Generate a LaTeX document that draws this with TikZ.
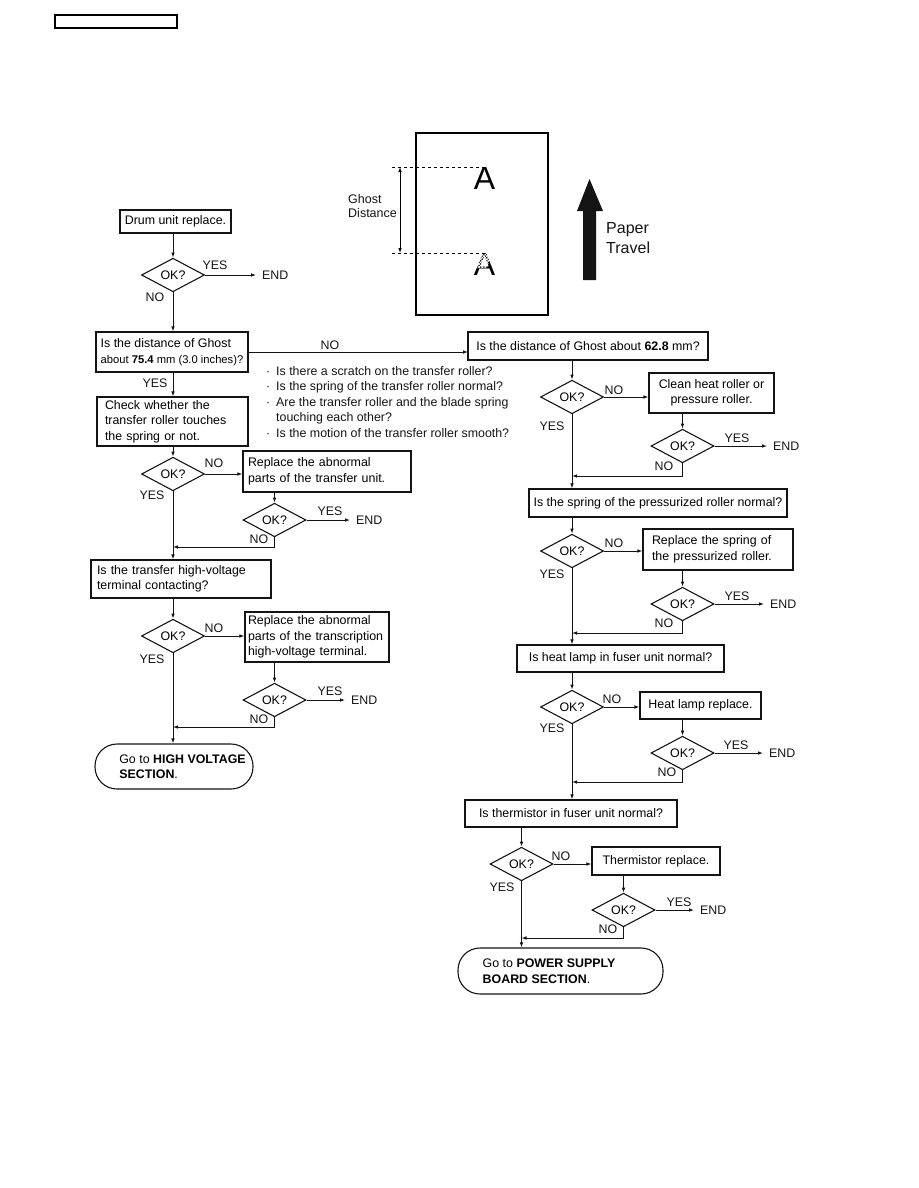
\documentclass[tikz,border=0pt]{standalone}
\usepackage{fontspec}
\setmainfont{Liberation Sans}
\usepackage{xcolor}
\usetikzlibrary{arrows.meta,shapes.geometric,patterns.meta}
\definecolor{ink}{HTML}{141414}
\newcommand\boxfont{\fontsize{12.4}{15.5}\selectfont}
\newcommand\chkdot{\makebox[10pt][l]{·}}
\tikzset{
  >={Latex[length=5pt,width=3.6pt]},
  box/.style={draw=ink, line width=1.1pt, inner sep=0pt, align=left, font=\boxfont},
  okdia/.style={diamond, draw=ink, line width=1.1pt, minimum width=63pt, minimum height=27pt, inner sep=0pt, font=\boxfont},
  term/.style={draw=ink, line width=1.1pt, rounded corners=22pt, inner sep=0pt, align=left, font=\boxfont},
  tag/.style={font=\boxfont, inner sep=0pt, text=ink},
  endtag/.style={tag, inner xsep=6pt, anchor=west},
  flow/.style={->, line width=.9pt, color=ink}
}

\begin{document}
\begin{tikzpicture}[x=1pt,y=-1pt]
  \useasboundingbox (0,0) rectangle (918,1188);
  \draw[line width=1.1pt] (55,15) rectangle (177,28);

  % ghost sketch
  \draw[line width=1.1pt] (416,133) rectangle (548,315);
  \node[inner sep=0pt, anchor=north, font=\fontsize{32}{32}\selectfont] (realA) at (484.5,167) {A};
  \node[inner sep=0pt, anchor=north, font=\fontsize{32}{32}\selectfont] (ghostA) at (484.5,253) {A};
  \fill[pattern={Lines[angle=45,distance=2.2pt,line width=.7pt]}, pattern color=white]
    (470,251) -- (492,251) -- (487,268) -- (470,268) -- cycle;
  \fill[pattern={Lines[angle=-45,distance=2.2pt,line width=.7pt]}, pattern color=white]
    (470,251) -- (492,251) -- (487,268) -- (470,268) -- cycle;
  \coordinate (gtop) at (400,167);
  \coordinate (gbot) at (400,253);
  \draw[dashed, line width=.8pt] (392,167) -- (realA.north);
  \draw[dashed, line width=.8pt] (392,253) -- (ghostA.north);
  \draw[<->, line width=.9pt] (gtop) -- (gbot);
  \node[tag, anchor=west, align=left, font=\fontsize{12.5}{14.5}\selectfont] (gdist) at (348,206) {Ghost\\Distance};
  \fill[ink] (583,280) -- (583,211) -- (577,211) -- (589.5,179) -- (603,211) -- (596,211) -- (596,280) -- cycle;
  \node[tag, anchor=west, align=left, font=\fontsize{16}{20}\selectfont] (travel) at (606,238) {Paper\\Travel};

  % left column
  \node[box, align=center, minimum width=111, minimum height=23] (drum) at (175.5,221.5) {Drum unit replace.};
  \node[okdia] (ok1) at (173,275) {OK?};
  \node[endtag] (end1) at (256,275) {END};
  \node[box, minimum width=152, minimum height=40] (dist75) at (172,352)
    {Is the distance of Ghost\\{\fontsize{11.2}{15}\selectfont about \textbf{75.4} mm (3.0 inches)?}};
  \node[box, minimum width=151, minimum height=49, text width=135] (check) at (172.5,421.5)
    {Check whether the\\transfer roller touches\\the spring or not.};
  \node[tag, anchor=north west, align=left] (hints) at (266,366)
    {\chkdot Is there a scratch on the transfer roller?\\
     \chkdot Is the spring of the transfer roller normal?\\
     \chkdot Are the transfer roller and the blade spring\\
     \hspace*{10pt}touching each other?\\
     \chkdot Is the motion of the transfer roller smooth?};
  \node[okdia] (ok2) at (173,474) {OK?};
  \node[box, minimum width=168, minimum height=41, text width=158] (rep1) at (327,471.5)
    {Replace the abnormal\\parts of the transfer unit.};
  \node[okdia] (ok3) at (274.5,520) {OK?};
  \node[endtag] (end2) at (350,520) {END};
  \coordinate (j1) at (173,547);
  \node[box, minimum width=180, minimum height=38, text width=168] (hv) at (181,579)
    {Is the transfer high-voltage\\terminal contacting?};
  \node[okdia] (ok4) at (173,636) {OK?};
  \node[box, minimum width=144, minimum height=50, text width=138] (rep2) at (317,637)
    {Replace the abnormal\\parts of the transcription\\high-voltage terminal.};
  \node[okdia] (ok5) at (274.5,700) {OK?};
  \node[endtag] (end3) at (345,700) {END};
  \coordinate (j2) at (173,727);
  \node[term, minimum width=158, minimum height=45] (hvsec) at (174,766.5)
    {\hspace*{17pt}Go to \textbf{HIGH VOLTAGE}\\\hspace*{17pt}\textbf{SECTION}.};

  \draw[flow] (ok1.north |- drum.south) -- (ok1.north);
  \draw[flow] (ok1.east) -- (end1.west);
  \draw[flow] (ok1.south) -- (ok1.south |- dist75.north);
  \draw[flow] (dist75.east) -- (dist75.east -| 468,0);
  \draw[flow] (ok1.south |- dist75.south) -- (ok1.south |- check.north);
  \draw[flow] (ok2.north |- check.south) -- (ok2.north);
  \draw[flow] (ok2.east) -- (ok2.east -| rep1.west);
  \draw[flow] (ok3.north |- rep1.south) -- (ok3.north);
  \draw[flow] (ok3.east) -- (end2.west);
  \draw[flow] (ok3.south) |- (j1);
  \draw[flow] (ok2.south) -- (ok2.south |- hv.north);
  \draw[flow] (ok4.north |- hv.south) -- (ok4.north);
  \draw[flow] (ok4.east) -- (ok4.east -| rep2.west);
  \draw[flow] (ok5.north |- rep2.south) -- (ok5.north);
  \draw[flow] (ok5.east) -- (end3.west);
  \draw[flow] (ok5.south) |- (j2);
  \draw[flow] (ok4.south) -- (ok4.south |- hvsec.north);

  \node[tag] (yes1) at (215,265) {YES};
  \node[tag] (no1) at (155,297) {NO};
  \node[tag] (no2) at (330,345) {NO};
  \node[tag] (yes2) at (155,383) {YES};
  \node[tag] (no3) at (214,463) {NO};
  \node[tag] (yes3) at (152,495) {YES};
  \node[tag] (yes4) at (330,511) {YES};
  \node[tag] (no4) at (259,539) {NO};
  \node[tag] (no5) at (214,628) {NO};
  \node[tag] (yes5) at (152,659) {YES};
  \node[tag] (yes6) at (330,691) {YES};
  \node[tag] (no6) at (259,719) {NO};

  % right column
  \node[box, minimum width=240, minimum height=28] (dist62) at (588,346)
    {Is the distance of Ghost about \textbf{62.8} mm?};
  \node[okdia] (okR1) at (572,397) {OK?};
  \node[box, align=center, minimum width=125, minimum height=40] (clean) at (711.5,393)
    {Clean heat roller or\\pressure roller.};
  \node[okdia] (okR2) at (682.5,446) {OK?};
  \node[endtag] (end4) at (767,446) {END};
  \coordinate (jR1) at (572,476);
  \node[box, minimum width=258, minimum height=28] (spring) at (658,503)
    {Is the spring of the pressurized roller normal?};
  \node[okdia] (okR3) at (572,551) {OK?};
  \node[box, minimum width=150, minimum height=41, text width=132] (repspring) at (718,549.5)
    {Replace the spring of\\the pressurized roller.};
  \node[okdia] (okR4) at (682.5,604) {OK?};
  \node[endtag] (end5) at (764,604) {END};
  \coordinate (jR2) at (572,633);
  \node[box, minimum width=207, minimum height=27] (lamp) at (620.5,658.5)
    {Is heat lamp in fuser unit normal?};
  \node[okdia] (okR5) at (572,707) {OK?};
  \node[box, minimum width=121, minimum height=27] (lamprep) at (700.5,705.5)
    {Heat lamp replace.};
  \node[okdia] (okR6) at (682.5,753) {OK?};
  \node[endtag] (end6) at (763,753) {END};
  \coordinate (jR3) at (572,782);
  \node[box, minimum width=212, minimum height=27] (therm) at (571,813.5)
    {Is thermistor in fuser unit normal?};
  \node[okdia] (okR7) at (521.5,864) {OK?};
  \node[box, minimum width=128, minimum height=28] (thermrep) at (656,861)
    {Thermistor replace.};
  \node[okdia] (okR8) at (623.5,910) {OK?};
  \node[endtag] (end7) at (694,910) {END};
  \coordinate (jR4) at (521.5,938);
  \node[term, minimum width=205, minimum height=46] (pwrsec) at (560.5,971)
    {Go to \textbf{POWER SUPPLY}\hspace*{23pt}\\\textbf{BOARD SECTION}.};

  \draw[flow] (okR1.north |- dist62.south) -- (okR1.north);
  \draw[flow] (okR1.east) -- (okR1.east -| clean.west);
  \draw[flow] (okR2.north |- clean.south) -- (okR2.north);
  \draw[flow] (okR2.east) -- (end4.west);
  \draw[flow] (okR2.south) |- (jR1);
  \draw[flow] (okR1.south) -- (okR1.south |- spring.north);
  \draw[flow] (okR3.north |- spring.south) -- (okR3.north);
  \draw[flow] (okR3.east) -- (okR3.east -| repspring.west);
  \draw[flow] (okR4.north |- repspring.south) -- (okR4.north);
  \draw[flow] (okR4.east) -- (end5.west);
  \draw[flow] (okR4.south) |- (jR2);
  \draw[flow] (okR3.south) -- (okR3.south |- lamp.north);
  \draw[flow] (okR5.north |- lamp.south) -- (okR5.north);
  \draw[flow] (okR5.east) -- (okR5.east -| lamprep.west);
  \draw[flow] (okR6.north |- lamprep.south) -- (okR6.north);
  \draw[flow] (okR6.east) -- (end6.west);
  \draw[flow] (okR6.south) |- (jR3);
  \draw[flow] (okR5.south) -- (okR5.south |- therm.north);
  \draw[flow] (okR7.north |- therm.south) -- (okR7.north);
  \draw[flow] (okR7.east) -- (okR7.east -| thermrep.west);
  \draw[flow] (okR8.north |- thermrep.south) -- (okR8.north);
  \draw[flow] (okR8.east) -- (end7.west);
  \draw[flow] (okR8.south) |- (jR4);
  \draw[flow] (okR7.south) -- (okR7.south |- pwrsec.north);

  \node[tag] (no7) at (614,390) {NO};
  \node[tag] (yes7) at (552,426) {YES};
  \node[tag] (yes8) at (737,438) {YES};
  \node[tag] (no8) at (664,466) {NO};
  \node[tag] (no9) at (614,543) {NO};
  \node[tag] (yes9) at (552,574) {YES};
  \node[tag] (yes10) at (737,596) {YES};
  \node[tag] (no10) at (664,623) {NO};
  \node[tag] (no11) at (612,699) {NO};
  \node[tag] (yes11) at (552,728) {YES};
  \node[tag] (yes12) at (736,745) {YES};
  \node[tag] (no12) at (667,772) {NO};
  \node[tag] (no13) at (561,856) {NO};
  \node[tag] (yes13) at (502,887) {YES};
  \node[tag] (yes14) at (679,902) {YES};
  \node[tag] (no14) at (608,929) {NO};
\end{tikzpicture}
\end{document}
